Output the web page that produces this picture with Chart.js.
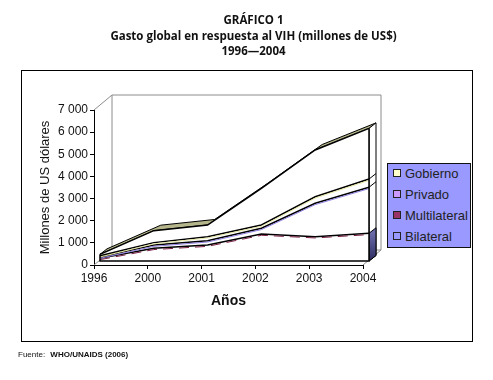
<!DOCTYPE html>
<html>
<head>
<meta charset="utf-8">
<style>
  html, body { margin: 0; padding: 0; background: #fff; }
  body { width: 493px; height: 380px; position: relative; overflow: hidden; }
  #marco { position: absolute; left: 21px; top: 70px; width: 450px; height: 270px; border: 1.5px solid #000; }
  #grafica { position: absolute; left: 0; top: 0; }
  #titulo { position: absolute; left: 0; top: 12px; width: 507px; text-align: center;
            font: bold 11.5px/15.5px "Open Sans", "DejaVu Sans", sans-serif; color: #111; }
  #fuente { position: absolute; left: 18px; top: 350px; font: 8px "Liberation Sans", sans-serif; color: #111; }
  #fuente b { margin-left: 3px; }
  #leyenda { position: absolute; left: 387px; top: 163px; width: 82px; height: 83px; background: #9999ff;
             border: 1px solid #111; font: 13px "Liberation Sans", sans-serif; color: #222; }
  #leyenda div { position: absolute; left: 5px; white-space: nowrap; }
  #leyenda i { display: inline-block; width: 6px; height: 6px; border: 1px solid #222; margin-right: 4px; position: relative; top: -1px; }
</style>
</head>
<body>
<div id="marco"></div>
<canvas id="grafica" width="493" height="380"></canvas>
<div id="titulo">GRÁFICO 1<br>Gasto global en respuesta al VIH (millones de US$)<br>1996—2004</div>
<div id="leyenda"></div>
<div id="fuente">Fuente: <b>WHO/UNAIDS (2006)</b></div>

<script src="https://cdn.jsdelivr.net/npm/chart.js@4"></script>
<script>
// ================= DATOS =================
const anios = ['1996', '2000', '2001', '2002', '2003', '2004'];
const bilateral    = [120, 575, 720, 1220, 1100, 1250];
const multilateral = [60, 145, 197, 257, 1506, 2080];
const privado      = [60, 110, 183, 149, 294, 370];
const gobierno     = [60, 540, 526, 1657, 2113, 2290];
const ticksY = [0, 1000, 2000, 3000, 4000, 5000, 6000, 7000];
const nombresLeyenda = ['Gobierno', 'Privado', 'Multilateral', 'Bilateral'];
const coloresLeyenda = ['#ffffcc', '#cc99ff', '#993366', '#9999ff'];

// tono fino bajo cada linea, de abajo hacia arriba
const tonos = ['#7a1f45', '#8f7fe0', '#e8e8a8', null];

// ================= LEYENDA =================
nombresLeyenda.forEach((n, i) => {
    const d = document.createElement('div');
    d.style.top = (2 + i * 21) + 'px';
    d.innerHTML = `<i style="background:${coloresLeyenda[i]}"></i>${n}`;
    document.getElementById('leyenda').appendChild(d);
});

// ================= EFECTO 3D =================
const frente = { x: 6, y: -4 };
const fondo  = { x: 7, y: -5.5 };
const muro   = { x: 18, y: -15 };

const efecto3d = {
    id: 'efecto3d',
    beforeDatasetsDraw(chart) {
        const { ctx, chartArea: a } = chart;
        ctx.save();
        // paredes
        ctx.strokeStyle = '#8c8c8c';
        ctx.lineWidth = 1;
        ctx.beginPath();
        ctx.moveTo(a.left, a.top);
        ctx.lineTo(a.left + muro.x, a.top + muro.y);
        ctx.lineTo(a.right + muro.x, a.top + muro.y);
        ctx.lineTo(a.right + muro.x, a.bottom + muro.y);
        ctx.lineTo(a.right, a.bottom);
        ctx.moveTo(a.left + muro.x, a.top + muro.y);
        ctx.lineTo(a.left + muro.x, a.bottom + muro.y);
        ctx.lineTo(a.left, a.bottom);
        ctx.moveTo(a.left + muro.x, a.bottom + muro.y);
        ctx.lineTo(a.right + muro.x, a.bottom + muro.y);
        ctx.stroke();

        ctx.translate(frente.x, frente.y);

        // cara superior de la serie de arriba
        const top = chart.getDatasetMeta(3).data;
        ctx.beginPath();
        top.forEach((p, i) => i ? ctx.lineTo(p.x, p.y) : ctx.moveTo(p.x, p.y));
        [...top].reverse().forEach(p => ctx.lineTo(p.x + fondo.x, p.y + fondo.y));
        ctx.closePath();
        ctx.fillStyle = '#b5b58c';
        ctx.fill();
        ctx.strokeStyle = '#000';
        ctx.lineWidth = 1;
        ctx.stroke();

        // cara lateral derecha
        const base = chart.scales.y.getPixelForValue(0);
        const ult = i => chart.getDatasetMeta(i).data[anios.length - 1];
        const xd = a.right;
        ctx.fillStyle = '#fff';
        ctx.beginPath();
        ctx.moveTo(xd, base);
        ctx.lineTo(xd + fondo.x, base + fondo.y);
        ctx.lineTo(xd + fondo.x, ult(3).y + fondo.y);
        ctx.lineTo(xd, ult(3).y);
        ctx.closePath();
        ctx.fill();
        ctx.stroke();
        const grad = ctx.createLinearGradient(0, ult(0).y, 0, base);
        grad.addColorStop(0, '#6a6aa8');
        grad.addColorStop(1, '#2c2c60');
        ctx.fillStyle = grad;
        ctx.beginPath();
        ctx.moveTo(xd, base);
        ctx.lineTo(xd + fondo.x, base + fondo.y);
        ctx.lineTo(xd + fondo.x, ult(0).y + fondo.y);
        ctx.lineTo(xd, ult(0).y);
        ctx.closePath();
        ctx.fill();
        ctx.stroke();
        [1, 2].forEach(i => {
            ctx.beginPath();
            ctx.moveTo(xd, ult(i).y);
            ctx.lineTo(xd + fondo.x, ult(i).y + fondo.y);
            ctx.stroke();
        });
    },
    afterDatasetsDraw(chart) {
        const { ctx, chartArea: a } = chart;
        const base = chart.scales.y.getPixelForValue(0);
        // tonos de cada serie
        tonos.forEach((t, i) => {
            if (!t) return;
            ctx.strokeStyle = t;
            ctx.lineWidth = 1;
            ctx.setLineDash(i === 0 ? [10, 6] : []);
            ctx.beginPath();
            chart.getDatasetMeta(i).data.forEach((p, k) =>
                k ? ctx.lineTo(p.x, p.y + 1.3) : ctx.moveTo(p.x, p.y + 1.3));
            ctx.stroke();
        });
        ctx.setLineDash([]);
        // contorno del frente
        const top = chart.getDatasetMeta(3).data;
        ctx.strokeStyle = '#000';
        ctx.lineWidth = 1.5;
        ctx.beginPath();
        ctx.moveTo(a.left, top[0].y);
        ctx.lineTo(a.left, base);
        ctx.lineTo(a.right, base);
        ctx.lineTo(a.right, top[top.length - 1].y);
        ctx.stroke();
        ctx.restore();
    }
};

// ================= GRAFICA =================
const serie = (label, data) => ({
    label, data,
    borderColor: '#000',
    borderWidth: 1.5,
    backgroundColor: '#fff',
    fill: 'origin',
    pointRadius: 0,
    tension: 0,
    clip: false
});

new Chart(document.getElementById('grafica'), {
    type: 'line',
    data: {
        labels: anios,
        datasets: [
            serie('Bilateral', bilateral),
            serie('Multilateral', multilateral),
            serie('Privado', privado),
            serie('Gobierno', gobierno)
        ]
    },
    options: {
        responsive: false,
        animation: false,
        layout: { padding: { left: 38, top: 110, right: 130, bottom: 70 } },
        plugins: { legend: { display: false }, tooltip: { enabled: false } },
        scales: {
            x: {
                offset: false,
                afterFit: s => { s.height = 45; },
                grid: { drawOnChartArea: false, color: '#000', tickLength: 4 },
                border: { color: '#000' },
                ticks: { color: '#111', maxRotation: 0, autoSkip: false, padding: 2,
                         font: { family: 'Liberation Sans', size: 12 } },
                title: { display: true, text: 'Años', color: '#111', padding: 0,
                         font: { family: 'Liberation Sans', size: 14, weight: 'bold' } }
            },
            y: {
                stacked: true,
                min: 0,
                max: 7000,
                afterFit: s => { s.width = 56; },
                afterBuildTicks: s => { s.ticks = ticksY.map(v => ({ value: v })); },
                grid: { drawOnChartArea: false, color: '#000', tickLength: 4 },
                border: { color: '#000' },
                ticks: { color: '#111', padding: 2,
                         font: { family: 'Liberation Sans', size: 12 },
                         callback: v => String(v).replace(/\B(?=(\d{3})+$)/, ' ') },
                title: { display: true, text: 'Millones de US dólares', color: '#111', padding: 0,
                         font: { family: 'Liberation Sans', size: 13 } }
            }
        }
    },
    plugins: [efecto3d]
});
</script>
</body>
</html>
